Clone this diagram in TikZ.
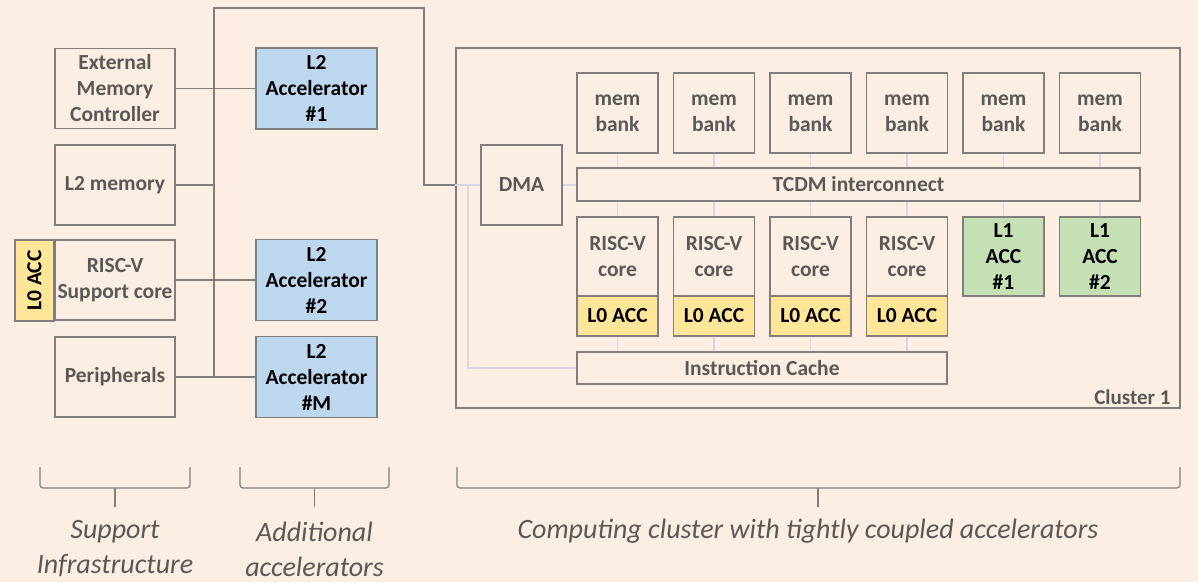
\documentclass[tikz,border=0pt]{standalone}
\usepackage{fontspec}
\setmainfont{Carlito}
\usepackage{tikz}
\usetikzlibrary{calc}
\usetikzlibrary{positioning}
\definecolor{bgcol}{HTML}{FCEEE2}
\definecolor{boxgray}{HTML}{7F7F7F}
\definecolor{txtgray}{HTML}{595959}
\definecolor{lightline}{HTML}{D4D8E2}
\definecolor{accblue}{HTML}{BDD7EE}
\definecolor{accyellow}{HTML}{FFE699}
\definecolor{accgreen}{HTML}{C5E0B4}
\tikzset{blk/.style={draw=boxgray,line width=1.6pt,fill=bgcol,text=txtgray,align=center,inner sep=0pt,
  font=\fontsize{21.5}{26}\selectfont\bfseries}}

\begin{document}
\begin{tikzpicture}[x=1pt,y=-1pt]
\tikzstyle{bus} = [draw=boxgray, line width=1.6pt]
\tikzstyle{thin} = [draw=lightline, line width=1.8pt]
\tikzstyle{sq} = [blk, minimum width=120pt, minimum height=80pt]
\tikzstyle{acc} = [blk, fill=accblue, text=black, minimum width=121pt, minimum height=81pt]
\tikzstyle{bank} = [blk, minimum width=81pt, minimum height=80pt]
\tikzstyle{core} = [blk, minimum width=81pt, minimum height=79pt]
\tikzstyle{lzero} = [blk, fill=accyellow, text=black, minimum width=81pt, minimum height=40pt]
\tikzstyle{lone} = [blk, fill=accgreen, text=black, minimum width=81pt, minimum height=79pt]
\tikzstyle{bar} = [blk, minimum height=33pt]
\tikzstyle{brace} = [draw=boxgray, line width=1.2pt, rounded corners=3pt]
\tikzstyle{caption} = [text=txtgray, align=center, font=\fontsize{28}{35}\selectfont\itshape]

\fill[bgcol] (0,0) rectangle (1198,582);
\useasboundingbox (0,0) rectangle (1198,582);

% support infrastructure
\node[sq](emc) at (115, 88.5){External\\Memory\\Controller};
\node[sq](l2mem) at (115, 185){L2 memory};
\node[sq](rvcore) at (115, 280){RISC-V\\Support core};
\node[sq](periph) at (115, 377){Peripherals};
\node[blk, fill=accyellow, text=black, rotate=90, minimum width=81pt, minimum height=39pt](l0sup) at (34.5, 280.5){L0 ACC};

% L2 accelerators
\node[acc](acc1) at (316.5, 88.5){L2\\Accelerator\\\#1};
\node[acc](acc2) at (316.5, 280){L2\\Accelerator\\\#2};
\node[acc](accM) at (316.5, 377){L2\\Accelerator\\\#M};

% cluster
\node[draw=boxgray, line width=1.6pt, minimum width=724pt, minimum height=360pt, inner sep=0pt](cluster) at (818, 228){};
\node[text=txtgray, anchor=east, font=\fontsize{21}{24}\selectfont\bfseries] at (1174, 397){Cluster 1};

\node[blk, minimum width=81pt, minimum height=80pt](dma) at (521.5, 185){DMA};

\node[bank](bank1) at (617.5, 113){mem\\bank};
\node[bank](bank2) at (714, 113){mem\\bank};
\node[bank](bank3) at (810.5, 113){mem\\bank};
\node[bank](bank4) at (907, 113){mem\\bank};
\node[bank](bank5) at (1003.5, 113){mem\\bank};
\node[bank](bank6) at (1100, 113){mem\\bank};

\node[bar, minimum width=563pt](tcdm) at (858.5, 184.5){TCDM interconnect};

\node[core](core1) at (617.5, 256.5){RISC-V\\core};
\node[core](core2) at (714, 256.5){RISC-V\\core};
\node[core](core3) at (810.5, 256.5){RISC-V\\core};
\node[core](core4) at (907, 256.5){RISC-V\\core};
\node[lzero](lzero1) at (617.5, 316){L0 ACC};
\node[lzero](lzero2) at (714, 316){L0 ACC};
\node[lzero](lzero3) at (810.5, 316){L0 ACC};
\node[lzero](lzero4) at (907, 316){L0 ACC};
\node[lone](lacc1) at (1003.5, 256.5){L1\\ACC\\\#1};
\node[lone](lacc2) at (1100, 256.5){L1\\ACC\\\#2};

\node[bar, minimum width=370pt, minimum height=32pt](icache) at (762, 368){Instruction Cache};

% system bus
\coordinate(bustop) at (214, 8);
\coordinate(busbot) at (214, 377);
\coordinate(turn) at (424, 8);
\coordinate(entry) at ($(dma.west -| cluster.west)$);
\coordinate(split) at ($(dma.west -| cluster.west) + (13, 0)$);
\draw[bus] (busbot) -- (bustop) -- (turn) |- (entry);
\draw[bus] (emc) -- (acc1);
\draw[bus] (l2mem.east) -- (l2mem.east -| bustop);
\draw[bus] (rvcore) -- (acc2);
\draw[bus] (periph) -- (accM);

% cluster links
\draw[thin] (entry) -- (dma.west);
\draw[thin] (split) |- (icache.west);
\draw[thin] (dma.east) -- (dma.east -| tcdm.west);
\draw[thin] (bank1) -- (bank1 |- tcdm.north);
\draw[thin] (bank2) -- (bank2 |- tcdm.north);
\draw[thin] (bank3) -- (bank3 |- tcdm.north);
\draw[thin] (bank4) -- (bank4 |- tcdm.north);
\draw[thin] (bank5) -- (bank5 |- tcdm.north);
\draw[thin] (bank6) -- (bank6 |- tcdm.north);
\draw[thin] (core1.north) -- (core1 |- tcdm.south);
\draw[thin] (core2.north) -- (core2 |- tcdm.south);
\draw[thin] (core3.north) -- (core3 |- tcdm.south);
\draw[thin] (core4.north) -- (core4 |- tcdm.south);
\draw[thin] (lacc1.north) -- (lacc1 |- tcdm.south);
\draw[thin] (lacc2.north) -- (lacc2 |- tcdm.south);
\draw[thin] (lzero1.south) -- (lzero1 |- icache.north);
\draw[thin] (lzero2.south) -- (lzero2 |- icache.north);
\draw[thin] (lzero3.south) -- (lzero3 |- icache.north);
\draw[thin] (lzero4.south) -- (lzero4 |- icache.north);

% braces
\draw[brace] (40, 467) -- (40, 488) -- (190, 488) -- (190, 467);
\draw[boxgray, line width=1.2pt] (115, 488) -- (115, 507);
\draw[brace] (240, 467) -- (240, 488) -- (389, 488) -- (389, 467);
\draw[boxgray, line width=1.2pt] (314.5, 488) -- (314.5, 507);
\draw[brace] (457, 467) -- (457, 488) -- (1180, 488) -- (1180, 467);
\draw[boxgray, line width=1.2pt] (818, 488) -- (818, 507);

\node[caption](capsup) at (115, 549){Support\\Infrastructure};
\node[caption](capadd) at (314.5, 549){Additional\\accelerators};
\node[caption](capclu) at (808, 531){Computing cluster with tightly coupled accelerators};

%\node[] at (1180, 570){};
\end{tikzpicture}
\end{document}
